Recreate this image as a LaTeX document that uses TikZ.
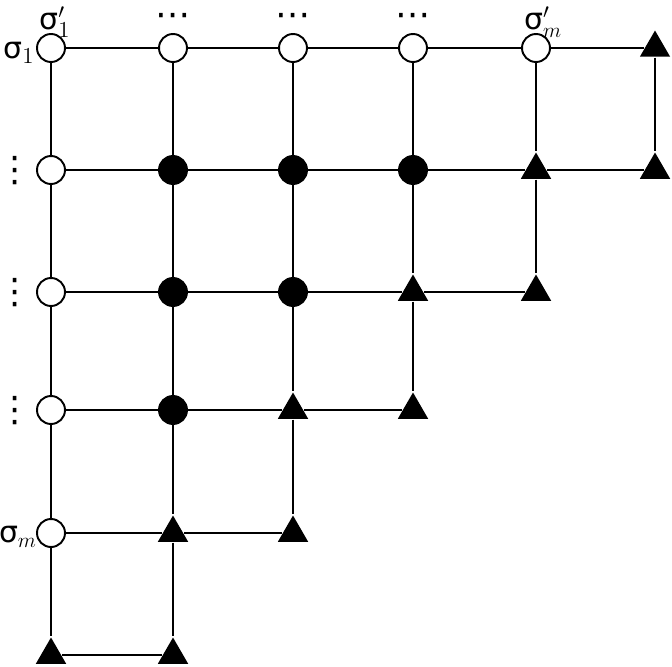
\documentclass[tikz,border=0pt]{standalone}
\usepackage{fontspec}
\newfontfamily\dejavu{DejaVu Sans}
\usetikzlibrary{shapes.geometric}
\tikzset{%
  opendot/.style={draw, circle, fill=white, minimum size=0.56cm, inner sep=0},
  fulldot/.style={opendot, fill=black},
  tri/.style={regular polygon, regular polygon sides=3, fill=black, minimum size=0.7cm, inner sep=0},
  lab/.style={inner sep=0, font=\fontsize{17}{19}\selectfont},
  dots/.style={inner sep=0, font=\fontsize{20}{22}\selectfont\dejavu}}
\newcommand{\sig}{\mbox{\dejavu σ}}
\newcommand{\low}[1]{\mbox{\fontsize{13}{15}\selectfont #1}}

\begin{document}
\begin{tikzpicture}[x=0.02cm, y=-0.02cm, line width=1.1pt]
\useasboundingbox (0,0) rectangle (672,666);
% first row
\node[opendot] (n11) at (51,48) {};
\node[opendot] (n12) at (173,48) {};
\node[opendot] (n13) at (293,48) {};
\node[opendot] (n14) at (413,48) {};
\node[opendot] (n15) at (536,48) {};
\node[tri] (n16) at (655,48) {};
% second row
\node[opendot] (n21) at (51,170) {};
\node[fulldot] (n22) at (173,170) {};
\node[fulldot] (n23) at (293,170) {};
\node[fulldot] (n24) at (413,170) {};
\node[tri] (n25) at (536,170) {};
\node[tri] (n26) at (655,170) {};
% third row
\node[opendot] (n31) at (51,292) {};
\node[fulldot] (n32) at (173,292) {};
\node[fulldot] (n33) at (293,292) {};
\node[tri] (n34) at (413,292) {};
\node[tri] (n35) at (536,292) {};
% fourth row
\node[opendot] (n41) at (51,410) {};
\node[fulldot] (n42) at (173,410) {};
\node[tri] (n43) at (293,410) {};
\node[tri] (n44) at (413,410) {};
% fifth row
\node[opendot] (n51) at (51,533) {};
\node[tri] (n52) at (173,533) {};
\node[tri] (n53) at (293,533) {};
% last row
\node[tri] (n61) at (51,655) {};
\node[tri] (n62) at (173,655) {};
% horizontal lines
\draw (n11) -- (n12) -- (n13) -- (n14) -- (n15) -- (n16);
\draw (n21) -- (n22) -- (n23) -- (n24) -- (n25) -- (n26);
\draw (n31) -- (n32) -- (n33) -- (n34) -- (n35);
\draw (n41) -- (n42) -- (n43) -- (n44);
\draw (n51) -- (n52) -- (n53);
\draw (n61) -- (n62);
% vertical lines
\draw (n11) -- (n21) -- (n31) -- (n41) -- (n51) -- (n61);
\draw (n12) -- (n22) -- (n32) -- (n42) -- (n52) -- (n62);
\draw (n13) -- (n23) -- (n33) -- (n43) -- (n53);
\draw (n14) -- (n24) -- (n34) -- (n44);
\draw (n15) -- (n25) -- (n35);
\draw (n16) -- (n26);
% labels
\node[lab] (l1) at (19,53) {$\sig_{\low{1}}$};
\node[lab] (lm) at (18,537) {$\sig_{\low{$m$}}$};
\node[lab] (t1) at (55,22) {$\sig'_{\low{1}}$};
\node[lab] (tm) at (543,22) {$\sig'_{\low{$m$}}$};
\node[dots] (h2) at (173,20) {⋯};
\node[dots] (h3) at (293,20) {⋯};
\node[dots] (h4) at (413,20) {⋯};
\node[dots] (v2) at (15,171) {⋮};
\node[dots] (v3) at (15,293) {⋮};
\node[dots] (v4) at (15,411) {⋮};
\end{tikzpicture}
\end{document}
